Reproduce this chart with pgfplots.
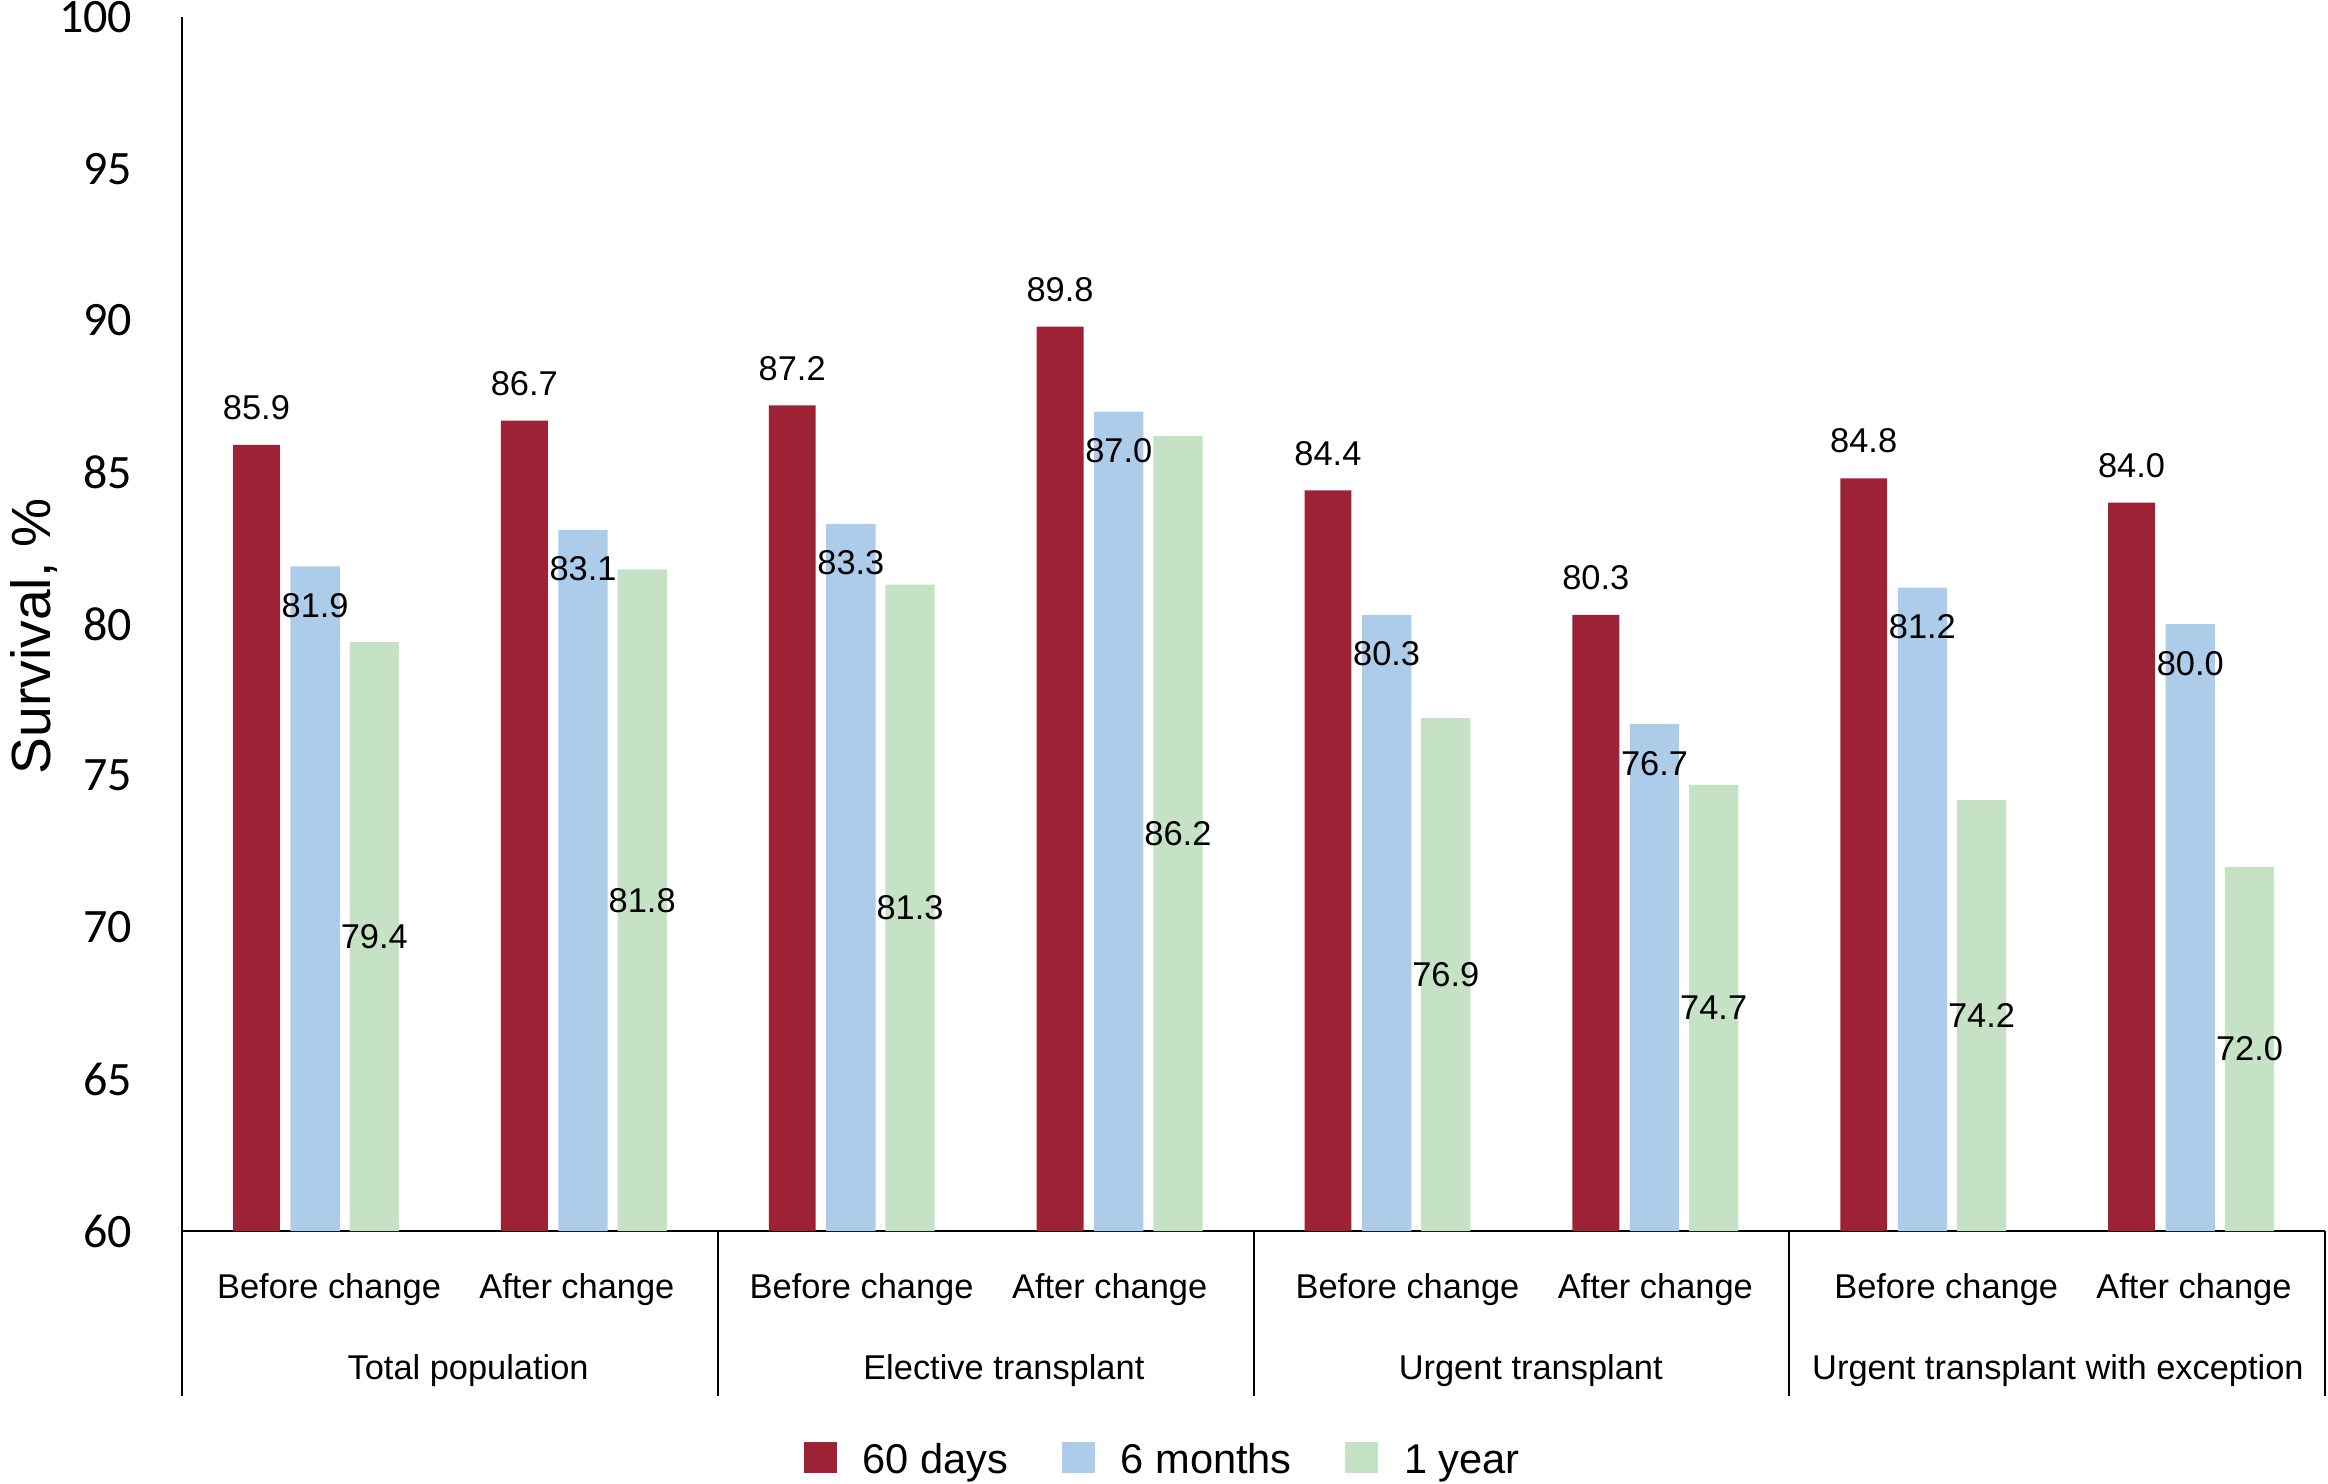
\documentclass[border=0pt]{standalone}
\usepackage{fontspec}
\setmainfont{Liberation Sans}
\newfontfamily\carlito{Carlito}
\usepackage{pgfplots}
\pgfplotsset{compat=1.18}
\usepackage{pgfplotstable}

\definecolor{cRed}{RGB}{157,34,53}
\definecolor{cBlue}{RGB}{172,204,234}
\definecolor{cGreen}{RGB}{197,226,196}

\pgfplotstableread{
x d60 m6 y1
0 85.9 81.9 79.4
1 86.7 83.1 81.8
2 87.2 83.3 81.3
3 89.8 87.0 86.2
4 84.4 80.3 76.9
5 80.3 76.7 74.7
6 84.8 81.2 74.2
7 84.0 80.0 72.0
}\data

\newcommand{\lblfont}{\fontsize{8.6bp}{10bp}\selectfont}

\begin{document}
\begin{tikzpicture}
\begin{axis}[
  scale only axis, width=535.75bp, height=303.5bp,
  xmin=-0.5, xmax=7.5, ymin=60, ymax=100,
  axis lines=left,
  axis line style={-, line width=0.7bp, black},
  x axis line style={-}, y axis line style={-},
  major tick length=0pt,
  ytick={60,65,...,100},
  yticklabel style={font=\carlito\fontsize{12bp}{14bp}\selectfont, anchor=east, inner sep=0pt, xshift=-12.25bp},
  xtick={0.049,0.974,2.037,2.963,4.075,5,6.086,7.011},
  xticklabels={Before change, After change, Before change, After change, Before change, After change, Before change, After change},
  xticklabel style={font=\lblfont, anchor=center, inner sep=0pt, yshift=-14.75bp},
  /pgf/number format/assume math mode=true,
  clip=false,
  legend columns=-1,
  legend image code/.code={\draw[#1, draw=none] (0bp,-2.9bp) rectangle (8.2bp,4.9bp);},
  legend style={draw=none, fill=none, at={(axis description cs:0,0)}, anchor=west,
    xshift=155.25bp, yshift=-57.5bp, inner sep=0pt,
    font=\fontsize{10.4bp}{12bp}\selectfont, nodes={inner sep=0pt},
    /tikz/every odd column/.append style={column sep=6.5bp},
    /tikz/every even column/.append style={column sep=13.4bp}},
]
\addplot[ybar, bar width=11.72bp, bar shift=-14.87bp, fill=cRed, draw=none,
  nodes near coords={\pgfmathprintnumber[fixed, fixed zerofill, precision=1]{\pgfplotspointmeta}},
  every node near coord/.append style={font=\lblfont, text=black, anchor=center, inner sep=0pt, xshift=-14.87bp, yshift=9.3bp}]
  table[x=x, y=d60]{\data};
\addlegendentry{60 days}
\addplot[ybar, bar width=12.32bp, bar shift=-0.2bp, fill=cBlue, draw=none,
  nodes near coords={\pgfmathprintnumber[fixed, fixed zerofill, precision=1]{\pgfplotspointmeta}},
  every node near coord/.append style={font=\lblfont, text=black, anchor=center, inner sep=0pt, xshift=-0.2bp, yshift=-9.8bp}]
  table[x=x, y=m6]{\data};
\addlegendentry{6 months}
\addplot[ybar, bar width=12.32bp, bar shift=14.6bp, fill=cGreen, draw=none,
  visualization depends on={y \as \rawy},
  nodes near coords={\pgfmathprintnumber[fixed, fixed zerofill, precision=1]{\pgfplotspointmeta}},
  every node near coord/.append style={font=\lblfont, text=black, anchor=center, inner sep=0pt, xshift=14.6bp, yshift={(60-\rawy)*3.79375bp}}]
  table[x=x, y=y1]{\data};
\addlegendentry{1 year}

\foreach \sx in {-0.5,1.5,3.5,5.5,7.5}{
  \edef\tmp{\noexpand\draw[line width=0.5bp] (axis cs:\sx,60) -- ([yshift=-41.25bp]axis cs:\sx,60);}\tmp
}
\node[font=\lblfont, anchor=center] at ([yshift=-35bp]axis cs:0.568,60) {Total population};
\node[font=\lblfont, anchor=center] at ([yshift=-35bp]axis cs:2.568,60) {Elective transplant};
\node[font=\lblfont, anchor=center] at ([yshift=-35bp]axis cs:4.535,60) {Urgent transplant};
\node[font=\lblfont, anchor=center] at ([yshift=-35bp]axis cs:6.503,60) {Urgent transplant with exception};
\node[rotate=90, font=\fontsize{13.8bp}{16bp}\selectfont, anchor=center] at ([xshift=-37bp, yshift=-3bp]rel axis cs:0,0.5) {Survival, \%};
\coordinate (O) at (axis cs:-0.5,60);
\end{axis}
\pgfresetboundingbox
\path ([shift={(-45.5bp,-63.25bp)}]O) rectangle ([shift={(536.5bp,307.75bp)}]O);
\end{tikzpicture}
\end{document}
